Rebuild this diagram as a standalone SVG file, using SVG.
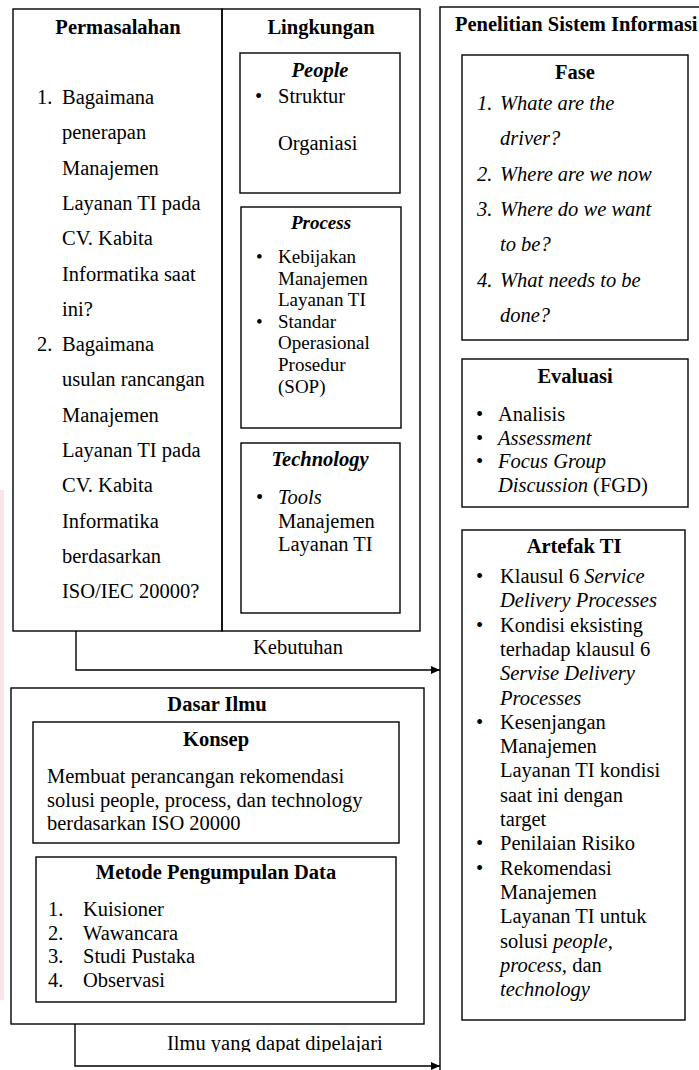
<svg xmlns="http://www.w3.org/2000/svg" width="699" height="1070" viewBox="0 0 699 1070">
<style>
.t{font-family:"Liberation Serif","Times New Roman",serif;font-size:20.5px;fill:#000}
.s{font-size:19px}
.b{font-weight:bold}
.i{font-style:italic}
.m{text-anchor:middle}
.box{fill:none;stroke:#000;stroke-width:1.4}
.ln{fill:none;stroke:#000;stroke-width:1.4}
</style>
<defs>
<marker id="arr" markerUnits="userSpaceOnUse" markerWidth="9" markerHeight="8" refX="9" refY="4" orient="auto">
<path d="M0,0 L9,4 L0,8 z" fill="#000"/>
</marker>
<clipPath id="clipIlmu"><rect x="150" y="1025" width="260" height="27"/></clipPath>
</defs>
<rect width="699" height="1070" fill="#fff"/>
<rect x="0" y="490" width="4" height="510" fill="#fbe4e7"/>

<g id="permasalahan">
<rect class="box" x="13" y="9" width="209" height="622"/>
<text class="t b m" x="118" y="34">Permasalahan</text>
<text class="t">
<tspan x="37" y="104">1.</tspan><tspan x="62" y="104">Bagaimana</tspan>
<tspan x="62" y="139.3">penerapan</tspan>
<tspan x="62" y="174.6">Manajemen</tspan>
<tspan x="62" y="209.9">Layanan TI pada</tspan>
<tspan x="62" y="245.2">CV. Kabita</tspan>
<tspan x="62" y="280.5">Informatika saat</tspan>
<tspan x="62" y="315.8">ini?</tspan>
<tspan x="37" y="351.1">2.</tspan><tspan x="62" y="351.1">Bagaimana</tspan>
<tspan x="62" y="386.4">usulan rancangan</tspan>
<tspan x="62" y="421.7">Manajemen</tspan>
<tspan x="62" y="457">Layanan TI pada</tspan>
<tspan x="62" y="492.3">CV. Kabita</tspan>
<tspan x="62" y="527.6">Informatika</tspan>
<tspan x="62" y="562.9">berdasarkan</tspan>
<tspan x="62" y="598.2">ISO/IEC 20000?</tspan>
</text>
</g>

<g id="lingkungan">
<rect class="box" x="222" y="9" width="198" height="622"/>
<text class="t b m" x="321" y="34">Lingkungan</text>
</g>

<g id="people">
<rect class="box" x="240" y="53" width="160" height="140"/>
<text class="t b i m" x="320" y="77">People</text>
<text class="t"><tspan x="255" y="103">•</tspan><tspan x="278" y="103">Struktur</tspan><tspan x="278" y="150">Organiasi</tspan></text>
</g>

<g id="process">
<rect class="box" x="241" y="207" width="160" height="221"/>
<text class="t s b i m" x="321" y="229">Process</text>
<text class="t s">
<tspan x="256" y="263">•</tspan><tspan x="278" y="263">Kebijakan</tspan>
<tspan x="278" y="284.6">Manajemen</tspan>
<tspan x="278" y="306.2">Layanan TI</tspan>
<tspan x="256" y="327.8">•</tspan><tspan x="278" y="327.8">Standar</tspan>
<tspan x="278" y="349.4">Operasional</tspan>
<tspan x="278" y="371">Prosedur</tspan>
<tspan x="278" y="392.6">(SOP)</tspan>
</text>
</g>

<g id="technology">
<rect class="box" x="241" y="443" width="159" height="170"/>
<text class="t b i m" x="320" y="466">Technology</text>
<text class="t">
<tspan x="256" y="504">•</tspan><tspan x="278" y="504" font-style="italic">Tools</tspan>
<tspan x="278" y="527.5">Manajemen</tspan>
<tspan x="278" y="551">Layanan TI</tspan>
</text>
</g>

<g id="penelitian">
<rect class="box" x="440" y="7" width="300" height="1100"/>
<text class="t b" x="455" y="31">Penelitian Sistem Informasi</text>
</g>

<g id="fase">
<rect class="box" x="462" y="55" width="226" height="285"/>
<text class="t b m" x="575" y="79">Fase</text>
<text class="t i" font-size="20">
<tspan x="477" y="110">1.</tspan><tspan x="500" y="110">Whate are the</tspan>
<tspan x="500" y="145.3">driver?</tspan>
<tspan x="477" y="180.6">2.</tspan><tspan x="500" y="180.6">Where are we now</tspan>
<tspan x="477" y="215.9">3.</tspan><tspan x="500" y="215.9">Where do we want</tspan>
<tspan x="500" y="251.2">to be?</tspan>
<tspan x="477" y="286.5">4.</tspan><tspan x="500" y="286.5">What needs to be</tspan>
<tspan x="500" y="321.8">done?</tspan>
</text>
</g>

<g id="evaluasi">
<rect class="box" x="462" y="359" width="226" height="148"/>
<text class="t b m" x="575" y="383">Evaluasi</text>
<text class="t">
<tspan x="476" y="421">•</tspan><tspan x="498" y="421">Analisis</tspan>
<tspan x="476" y="444.5">•</tspan><tspan x="498" y="444.5" font-style="italic">Assessment</tspan>
<tspan x="476" y="468">•</tspan><tspan x="498" y="468" font-style="italic">Focus Group</tspan>
<tspan x="498" y="491.5" font-style="italic">Discussion</tspan><tspan> (FGD)</tspan>
</text>
</g>

<g id="artefak">
<rect class="box" x="462" y="530" width="223" height="490"/>
<text class="t b m" x="574" y="553">Artefak TI</text>
<text class="t">
<tspan x="476" y="583">•</tspan><tspan x="500" y="583">Klausul 6 </tspan><tspan font-style="italic">Service</tspan>
<tspan x="500" y="607.3" font-style="italic">Delivery Processes</tspan>
<tspan x="476" y="631.6">•</tspan><tspan x="500" y="631.6">Kondisi eksisting</tspan>
<tspan x="500" y="655.9">terhadap klausul 6</tspan>
<tspan x="500" y="680.2" font-style="italic">Servise Delivery</tspan>
<tspan x="500" y="704.5" font-style="italic">Processes</tspan>
<tspan x="476" y="728.8">•</tspan><tspan x="500" y="728.8">Kesenjangan</tspan>
<tspan x="500" y="753.1">Manajemen</tspan>
<tspan x="500" y="777.4">Layanan TI kondisi</tspan>
<tspan x="500" y="801.7">saat ini dengan</tspan>
<tspan x="500" y="826">target</tspan>
<tspan x="476" y="850.3">•</tspan><tspan x="500" y="850.3">Penilaian Risiko</tspan>
<tspan x="476" y="874.6">•</tspan><tspan x="500" y="874.6">Rekomendasi</tspan>
<tspan x="500" y="898.9">Manajemen</tspan>
<tspan x="500" y="923.2">Layanan TI untuk</tspan>
<tspan x="500" y="947.5">solusi </tspan><tspan font-style="italic">people,</tspan>
<tspan x="500" y="971.8" font-style="italic">process,</tspan><tspan> dan</tspan>
<tspan x="500" y="996.1" font-style="italic">technology</tspan>
</text>
</g>

<g id="dasar-ilmu">
<rect class="box" x="11" y="688" width="413" height="336"/>
<text class="t b m" x="217" y="711">Dasar Ilmu</text>
</g>

<g id="konsep">
<rect class="box" x="33" y="722" width="366" height="121"/>
<text class="t b m" x="216" y="746">Konsep</text>
<text class="t">
<tspan x="47" y="783">Membuat perancangan rekomendasi</tspan>
<tspan x="47" y="806.5">solusi people, process, dan technology</tspan>
<tspan x="47" y="830">berdasarkan ISO 20000</tspan>
</text>
</g>

<g id="metode">
<rect class="box" x="36" y="857" width="360" height="145"/>
<text class="t b m" x="216" y="879">Metode Pengumpulan Data</text>
<text class="t">
<tspan x="48" y="916">1.</tspan><tspan x="83" y="916">Kuisioner</tspan>
<tspan x="48" y="939.5">2.</tspan><tspan x="83" y="939.5">Wawancara</tspan>
<tspan x="48" y="963">3.</tspan><tspan x="83" y="963">Studi Pustaka</tspan>
<tspan x="48" y="986.5">4.</tspan><tspan x="83" y="986.5">Observasi</tspan>
</text>
</g>

<g id="connectors">
<path class="ln" d="M76,631 V670 H440" marker-end="url(#arr)"/>
<text class="t" x="253" y="654">Kebutuhan</text>
<path class="ln" d="M75,1024 V1066 H440" marker-end="url(#arr)"/>
<text class="t" x="167" y="1050" clip-path="url(#clipIlmu)">Ilmu yang dapat dipelajari</text>
</g>
</svg>
